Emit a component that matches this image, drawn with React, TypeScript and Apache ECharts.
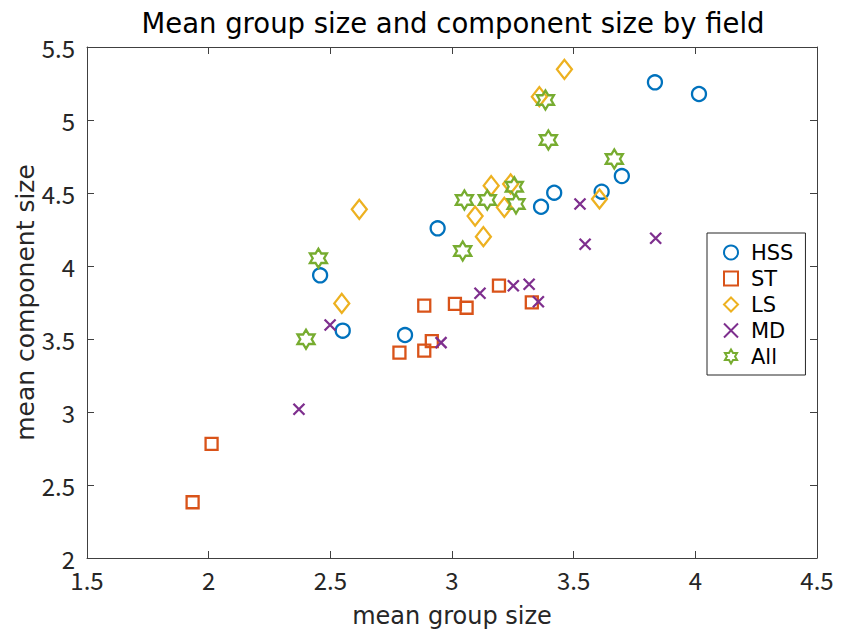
import React, { useEffect, useRef } from "react";
import * as echarts from "echarts";

// Mean group size (x) and mean component size (y) per field
const hssX = [2.458, 2.551, 2.807, 2.941, 3.366, 3.42, 3.615, 3.698, 3.834, 4.015];
const hssY = [3.936, 3.557, 3.527, 4.258, 4.406, 4.502, 4.509, 4.616, 5.258, 5.178];

const stX = [1.934, 2.012, 2.784, 2.886, 2.917, 2.886, 3.012, 3.06, 3.193, 3.328];
const stY = [2.382, 2.781, 3.406, 3.42, 3.486, 3.728, 3.74, 3.714, 3.865, 3.751];

const lsX = [2.547, 2.619, 3.095, 3.129, 3.161, 3.215, 3.241, 3.359, 3.462, 3.606];
const lsY = [3.744, 4.388, 4.342, 4.201, 4.55, 4.402, 4.562, 5.16, 5.347, 4.459];

const mdX = [2.371, 2.499, 2.955, 3.115, 3.252, 3.317, 3.355, 3.526, 3.547, 3.837];
const mdY = [3.019, 3.596, 3.475, 3.813, 3.865, 3.875, 3.755, 4.425, 4.149, 4.19];

const allX = [2.4, 2.451, 3.044, 3.051, 3.145, 3.256, 3.263, 3.384, 3.396, 3.667];
const allY = [3.498, 4.053, 4.103, 4.452, 4.452, 4.543, 4.425, 5.137, 4.863, 4.733];

const seriesNames = ["HSS", "ST", "LS", "MD", "All"];
const colors = ["#0072BD", "#D95319", "#EDB120", "#7E2F8E", "#77AC30"];

const xMin = 1.5, xMax = 4.5, xStep = 0.5;
const yMin = 2, yMax = 5.5, yStep = 0.5;

const CROSS = "path://M0,0L10,10M10,0L0,10";
const HEXAGRAM =
  "path://M100,0L128.87,50L186.6,50L157.7,100L186.6,150L128.87,150L100,200L71.13,150L13.4,150L42.3,100L13.4,50L71.13,50Z";

const zip = (xs: number[], ys: number[]) => xs.map((x, i) => [x, ys[i]]);

const TEXT_FONT = "DejaVu Sans";
const TICK_FONT = "'Noto Sans CJK JP', 'Noto Sans', sans-serif";
const AXIS_COLOR = "#404040";

export default function App() {
  const ref = useRef<HTMLDivElement>(null);

  useEffect(() => {
    if (!ref.current) return;
    const chart = echarts.init(ref.current, null, { renderer: "svg" });

    const symbols: any[] = ["circle", "rect", "diamond", CROSS, HEXAGRAM];
    const sizes: any[] = [14, 12, [15, 19], 11, [17, 19]];
    const datasets = [
      zip(hssX, hssY),
      zip(stX, stY),
      zip(lsX, lsY),
      zip(mdX, mdY),
      zip(allX, allY),
    ];

    const series = seriesNames.map((name, i) => ({
      name,
      type: "scatter",
      xAxisIndex: 0,
      yAxisIndex: 0,
      symbol: symbols[i],
      symbolSize: sizes[i],
      data: datasets[i],
      itemStyle: {
        color: "rgba(0,0,0,0)",
        borderColor: colors[i],
        borderWidth: 2.3,
        opacity: 1,
      },
      emphasis: { disabled: true },
    }));

    const baseX = {
      type: "value",
      min: xMin,
      max: xMax,
      interval: xStep,
      splitLine: { show: false },
      axisLine: { show: true, onZero: false, lineStyle: { color: AXIS_COLOR, width: 1 } },
      axisTick: { show: true, inside: true, length: 7, lineStyle: { color: AXIS_COLOR } },
    };
    const baseY = {
      type: "value",
      min: yMin,
      max: yMax,
      interval: yStep,
      splitLine: { show: false },
      axisLine: { show: true, onZero: false, lineStyle: { color: AXIS_COLOR, width: 1 } },
      axisTick: { show: true, inside: true, length: 7, lineStyle: { color: AXIS_COLOR } },
    };

    chart.setOption({
      animation: false,
      backgroundColor: "#ffffff",
      title: {
        text: "Mean group size and component size by field",
        left: 448,
        textAlign: "center",
        top: 4,
        textStyle: {
          fontFamily: TEXT_FONT,
          fontSize: 27.5,
          fontWeight: "normal",
          color: "#000000",
        },
      },
      grid: {
        left: 87,
        right: 26,
        top: 47,
        bottom: 71,
        containLabel: false,
        outerBoundsMode: "none",
      },
      xAxis: [
        {
          ...baseX,
          position: "bottom",
          name: "mean group size",
          nameLocation: "middle",
          nameGap: 46,
          nameMoveOverlap: false,
          nameTextStyle: { fontFamily: TEXT_FONT, fontSize: 24, color: "#262626" },
          axisLabel: {
            fontFamily: TICK_FONT,
            fontSize: 24,
            color: "#262626",
            margin: 9,
          },
        },
        {
          ...baseX,
          position: "top",
          axisLabel: { show: false },
        },
      ],
      yAxis: [
        {
          ...baseY,
          position: "left",
          name: "mean component size",
          nameLocation: "middle",
          nameGap: 49,
          nameMoveOverlap: false,
          nameTextStyle: { fontFamily: TEXT_FONT, fontSize: 25, color: "#262626" },
          axisLabel: {
            fontFamily: TICK_FONT,
            fontSize: 24,
            color: "#262626",
            margin: 12,
          },
        },
        {
          ...baseY,
          position: "right",
          axisLabel: { show: false },
        },
      ],
      legend: {
        orient: "vertical",
        left: 707,
        top: 233,
        itemWidth: 14,
        itemHeight: 14,
        itemGap: 5,
        padding: [9, 12, 8, 16],
        borderColor: "#262626",
        borderWidth: 1,
        backgroundColor: "#ffffff",
        data: seriesNames,
        textStyle: {
          fontFamily: TEXT_FONT,
          fontSize: 21,
          lineHeight: 21,
          color: "#000000",
          padding: [0, 0, 0, 8],
        },
      },
      series,
    });

    return () => chart.dispose();
  }, []);

  return (
    <div
      ref={ref}
      style={{ position: "absolute", left: 0, top: 0, width: 843, height: 629 }}
    />
  );
}
